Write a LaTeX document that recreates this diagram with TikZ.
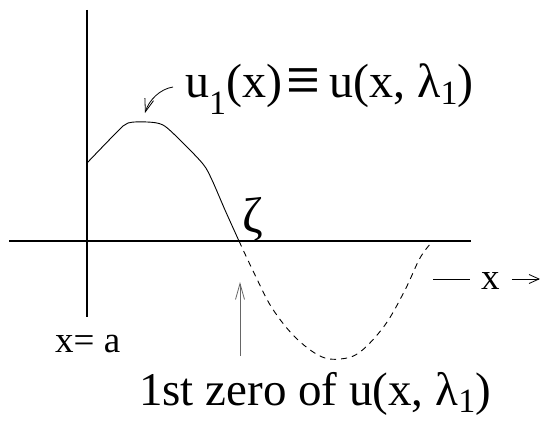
\documentclass[tikz,border=0pt]{standalone}
\usepackage{fontspec}
\setmainfont{Liberation Serif}
\usetikzlibrary{arrows.meta}
\newcommand\lowsub[2]{\raisebox{-#1}{\fontsize{34}{40}\selectfont #2}}
\newcommand\bigequiv{\raisebox{-0.13em}{\scalebox{1.25}[1.45]{≡}}}
\tikzset{
  bigtext/.style={inner sep=0pt, font=\fontsize{48}{58}\selectfont},
  midtext/.style={inner sep=0pt, font=\fontsize{47}{56}\selectfont},
  zetatext/.style={inner sep=0pt, font=\fontsize{50}{60}\selectfont},
  smalltext/.style={inner sep=0pt, font=\fontsize{37}{44}\selectfont},
  axisline/.style={line width=1.2pt},
  curveline/.style={line width=0.9pt},
  barb/.style={-{Straight Barb[length=13pt,width=9pt,line width=0.8pt]}, line width=0.8pt},
}
\begin{document}
\begin{tikzpicture}[x=1pt,y=-1pt]
\useasboundingbox (0,0) rectangle (540,420);
% axes
\coordinate (vtop) at (87,10);
\coordinate (vbot) at (87,317);
\coordinate (hleft) at (9,241);
\coordinate (hright) at (471,241);
\draw[axisline] (vtop) -- (vbot);
\draw[line width=2pt] (hleft) -- (hright);
% solid curve
\draw[curveline] plot[smooth, tension=0.5] coordinates {(87,163) (117,132) (128,123) (147,122) (163,125) (180,140) (203,164) (212,180) (225,210) (239,241)};
% dashed curve
\draw[curveline, dash pattern=on 6pt off 5pt] plot[smooth, tension=0.6] coordinates {(239,241) (255,275) (272,308) (295,337) (320,356) (340,359) (360,352) (385,325) (405,290) (420,258) (432,242)};
% labels
\node[bigtext, anchor=base west] (ulabel) at (185,97) {u\lowsub{0.36em}{1}(x)\hspace{0.08em}\bigequiv\hspace{0.2em}u(x, λ\lowsub{0.16em}{1})};
\coordinate (arrstart) at (173,87);
\coordinate (peak) at (145,113);
\draw[barb] (arrstart) .. controls (160,89) and (149,100) .. (peak);
\node[zetatext, anchor=south, yshift=-0.5pt] (zeta) at (253,241) {ζ};
\node[smalltext, anchor=base west] (xa) at (55,352) {x= a};
\node[midtext, anchor=base west] (zero) at (139,405) {1st zero of u(x, λ\lowsub{0.16em}{1})};
\coordinate (zerotop) at (240,356);
\coordinate (zeropt) at (240,282);
\draw[barb, draw=black!60, -{Straight Barb[length=16pt,width=9pt,line width=0.8pt]}] (zerotop) -- (zeropt);
\node[smalltext, anchor=base west] (xlab) at (481,289) {x};
\coordinate (dashstart) at (433,279);
\coordinate (arrowend) at (540,279);
\draw[line width=0.8pt] (dashstart) -- ([xshift=-11pt]xlab.west |- dashstart);
\draw[line width=0.8pt, -{Straight Barb[length=10pt,width=9pt,line width=0.8pt]}] ([xshift=12pt]xlab.east |- dashstart) -- (arrowend);
\end{tikzpicture}
\end{document}
